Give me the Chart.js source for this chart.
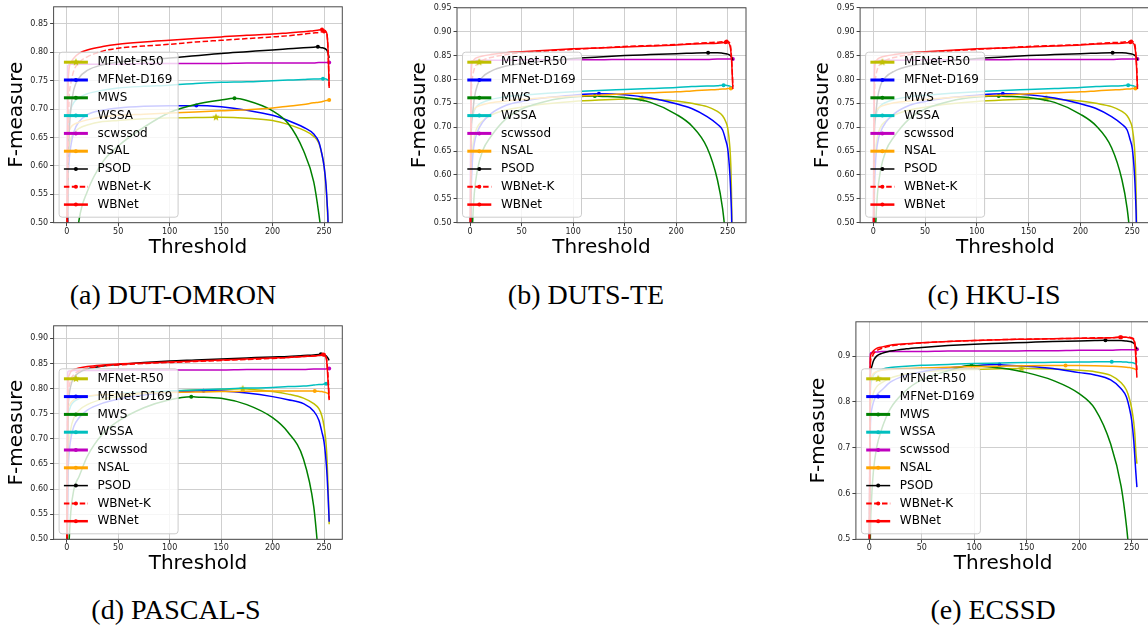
<!DOCTYPE html>
<html lang="en">
<head>
  <meta charset="UTF-8">
  <title>F-measure curves</title>
  <style>
    html, body { margin: 0; padding: 0; background: #fff; overflow: hidden; }
    body { width: 1148px; height: 629px; position: relative; }
    .panel { position: absolute; }
    .caption {
      position: absolute;
      width: 300px;
      text-align: center;
      font-family: "Liberation Serif", serif;
      font-size: 28px;
      line-height: 32px;
      color: #000;
    }
  </style>
</head>
<body>

  <div class="panel" id="wrapA"><canvas id="chartA"></canvas></div>
  <div class="panel" id="wrapB"><canvas id="chartB"></canvas></div>
  <div class="panel" id="wrapC"><canvas id="chartC"></canvas></div>
  <div class="panel" id="wrapD"><canvas id="chartD"></canvas></div>
  <div class="panel" id="wrapE"><canvas id="chartE"></canvas></div>

  <div class="caption" style="left:23px; top:279px">(a) DUT-OMRON</div>
  <div class="caption" style="left:436px; top:279px">(b) DUTS-TE</div>
  <div class="caption" style="left:844px; top:279px">(c) HKU-IS</div>
  <div class="caption" style="left:26px; top:594px">(d) PASCAL-S</div>
  <div class="caption" style="left:843px; top:594px">(e) ECSSD</div>

  <script src="https://cdn.jsdelivr.net/npm/chart.js"></script>
  <script>
    // methods, in plotting / legend order
    const methods = ['MFNet-R50', 'MFNet-D169', 'MWS', 'WSSA', 'scwssod', 'NSAL', 'PSOD', 'WBNet-K', 'WBNet'];

    // thresholds where the F-measure curves are sampled
    const thresholds = [0, 1, 2, 4, 7, 12, 20, 35, 50, 75, 100, 125, 150, 175, 200, 215, 230, 240, 245, 248, 250, 252, 253, 254, 255];
    const xTicks = [0, 50, 100, 150, 200, 250];

    // ---- DUT-OMRON ----
    const omR50  = [0.30, 0.60, 0.63, 0.648, 0.658, 0.666, 0.672, 0.678, 0.680, 0.683, 0.6845, 0.685, 0.6855, 0.684, 0.680, 0.673, 0.663, 0.652, 0.640, 0.620, 0.600, 0.560, 0.530, 0.480, 0.30];
    const omD169 = [0.30, 0.55, 0.60, 0.635, 0.660, 0.678, 0.690, 0.698, 0.702, 0.705, 0.706, 0.706, 0.704, 0.698, 0.689, 0.680, 0.668, 0.656, 0.642, 0.620, 0.600, 0.565, 0.535, 0.490, 0.30];
    const omMWS  = [0.10, 0.15, 0.22, 0.32, 0.42, 0.505, 0.555, 0.607, 0.635, 0.668, 0.694, 0.708, 0.716, 0.715, 0.697, 0.675, 0.627, 0.572, 0.515, 0.47, 0.43, 0.38, 0.35, 0.30, 0.20];
    const omWSSA = [0.35, 0.66, 0.685, 0.700, 0.712, 0.720, 0.727, 0.733, 0.737, 0.740, 0.742, 0.745, 0.747, 0.748, 0.750, 0.751, 0.752, 0.753, 0.753, 0.7532, 0.7532, 0.753, 0.752, 0.751, 0.750];
    const omScw  = [0.40, 0.776, 0.778, 0.779, 0.779, 0.779, 0.779, 0.779, 0.779, 0.780, 0.780, 0.780, 0.780, 0.781, 0.781, 0.781, 0.781, 0.781, 0.782, 0.782, 0.782, 0.782, 0.782, 0.782, 0.782];
    const omNSAL = [0.35, 0.64, 0.66, 0.668, 0.673, 0.677, 0.681, 0.686, 0.689, 0.691, 0.693, 0.695, 0.697, 0.699, 0.702, 0.705, 0.708, 0.711, 0.712, 0.713, 0.714, 0.715, 0.715, 0.7155, 0.716];
    const omPSOD = [0.30, 0.55, 0.64, 0.70, 0.735, 0.755, 0.768, 0.778, 0.783, 0.787, 0.790, 0.794, 0.798, 0.801, 0.804, 0.806, 0.808, 0.809, 0.809, 0.808, 0.807, 0.805, 0.803, 0.798, 0.790];
    const omWBK  = [0.30, 0.55, 0.70, 0.745, 0.768, 0.782, 0.792, 0.802, 0.807, 0.811, 0.814, 0.818, 0.821, 0.824, 0.827, 0.829, 0.832, 0.834, 0.835, 0.836, 0.836, 0.835, 0.830, 0.800, 0.740];
    const omWB   = [0.35, 0.70, 0.765, 0.782, 0.790, 0.798, 0.804, 0.810, 0.814, 0.818, 0.821, 0.824, 0.827, 0.830, 0.832, 0.834, 0.836, 0.838, 0.839, 0.840, 0.839, 0.836, 0.830, 0.800, 0.737];
    const omPeaks = [[145, 0.6855], [126, 0.7065], [163, 0.719], [249, 0.7535], [255, 0.782], [255, 0.716], [244, 0.8095], [250, 0.8365], [248, 0.840]];

    // ---- DUTS-TE (HKU-IS curves are identical) ----
    const dtR50  = [0.30, 0.58, 0.64, 0.68, 0.70, 0.713, 0.725, 0.736, 0.742, 0.749, 0.754, 0.757, 0.759, 0.759, 0.755, 0.750, 0.743, 0.733, 0.724, 0.712, 0.698, 0.66, 0.62, 0.52, 0.30];
    const dtD169 = [0.30, 0.55, 0.62, 0.665, 0.69, 0.71, 0.728, 0.746, 0.754, 0.762, 0.767, 0.770, 0.768, 0.761, 0.749, 0.739, 0.722, 0.706, 0.694, 0.673, 0.655, 0.605, 0.56, 0.49, 0.30];
    const dtMWS  = [0.20, 0.40, 0.48, 0.56, 0.61, 0.65, 0.68, 0.718, 0.738, 0.755, 0.763, 0.765, 0.762, 0.752, 0.727, 0.703, 0.657, 0.59, 0.53, 0.47, 0.42, 0.37, 0.34, 0.30, 0.20];
    const dtWSSA = [0.40, 0.70, 0.72, 0.735, 0.745, 0.752, 0.758, 0.764, 0.767, 0.771, 0.774, 0.777, 0.779, 0.781, 0.783, 0.785, 0.786, 0.787, 0.788, 0.788, 0.787, 0.786, 0.785, 0.784, 0.783];
    const dtScw  = [0.50, 0.838, 0.839, 0.839, 0.840, 0.840, 0.840, 0.840, 0.841, 0.841, 0.841, 0.841, 0.842, 0.842, 0.842, 0.842, 0.842, 0.843, 0.843, 0.843, 0.843, 0.843, 0.843, 0.843, 0.843];
    const dtNSAL = [0.40, 0.715, 0.73, 0.738, 0.743, 0.747, 0.751, 0.755, 0.758, 0.762, 0.765, 0.767, 0.770, 0.772, 0.774, 0.776, 0.778, 0.779, 0.780, 0.780, 0.781, 0.781, 0.781, 0.781, 0.780];
    const dtPSOD = [0.30, 0.68, 0.72, 0.76, 0.788, 0.805, 0.817, 0.828, 0.833, 0.839, 0.844, 0.847, 0.850, 0.852, 0.854, 0.855, 0.856, 0.856, 0.855, 0.854, 0.853, 0.851, 0.849, 0.846, 0.840];
    const dtWBK  = [0.30, 0.75, 0.80, 0.822, 0.833, 0.840, 0.846, 0.852, 0.856, 0.860, 0.863, 0.866, 0.869, 0.871, 0.873, 0.875, 0.877, 0.878, 0.879, 0.879, 0.879, 0.876, 0.865, 0.835, 0.785];
    const dtWB   = [0.30, 0.80, 0.835, 0.842, 0.846, 0.849, 0.852, 0.856, 0.858, 0.861, 0.864, 0.866, 0.868, 0.870, 0.872, 0.874, 0.875, 0.876, 0.877, 0.878, 0.877, 0.872, 0.860, 0.830, 0.780];
    const dtPeaks = [[167, 0.760], [125, 0.770], [121, 0.7655], [246, 0.788], [255, 0.843], [253, 0.781], [231, 0.856], [249, 0.8795], [248, 0.878]];

    // ---- PASCAL-S ----
    const psR50  = [0.30, 0.62, 0.68, 0.72, 0.742, 0.757, 0.768, 0.779, 0.784, 0.790, 0.794, 0.797, 0.798, 0.799, 0.794, 0.789, 0.781, 0.770, 0.760, 0.745, 0.725, 0.69, 0.655, 0.60, 0.53];
    const psD169 = [0.30, 0.60, 0.66, 0.70, 0.725, 0.742, 0.757, 0.771, 0.779, 0.787, 0.792, 0.795, 0.795, 0.791, 0.784, 0.778, 0.770, 0.755, 0.737, 0.713, 0.694, 0.655, 0.625, 0.585, 0.535];
    const psMWS  = [0.20, 0.42, 0.48, 0.555, 0.60, 0.625, 0.665, 0.71, 0.735, 0.762, 0.778, 0.7835, 0.781, 0.768, 0.742, 0.713, 0.66, 0.565, 0.46, 0.40, 0.36, 0.32, 0.30, 0.28, 0.20];
    const psWSSA = [0.40, 0.74, 0.755, 0.766, 0.774, 0.780, 0.784, 0.788, 0.790, 0.793, 0.795, 0.797, 0.799, 0.801, 0.802, 0.804, 0.805, 0.807, 0.808, 0.808, 0.809, 0.8095, 0.809, 0.808, 0.807];
    const psScw  = [0.50, 0.833, 0.835, 0.835, 0.836, 0.836, 0.836, 0.836, 0.837, 0.837, 0.837, 0.837, 0.837, 0.838, 0.838, 0.838, 0.838, 0.839, 0.839, 0.839, 0.839, 0.839, 0.840, 0.840, 0.840];
    const psNSAL = [0.40, 0.755, 0.765, 0.772, 0.778, 0.782, 0.785, 0.788, 0.789, 0.791, 0.792, 0.793, 0.794, 0.7945, 0.795, 0.795, 0.795, 0.795, 0.7945, 0.794, 0.793, 0.792, 0.791, 0.790, 0.788];
    const psPSOD = [0.30, 0.72, 0.78, 0.806, 0.822, 0.832, 0.839, 0.845, 0.848, 0.852, 0.855, 0.857, 0.859, 0.861, 0.863, 0.864, 0.866, 0.867, 0.868, 0.868, 0.867, 0.865, 0.863, 0.860, 0.856];
    const psWBK  = [0.30, 0.76, 0.80, 0.818, 0.828, 0.835, 0.840, 0.845, 0.847, 0.850, 0.852, 0.854, 0.856, 0.858, 0.860, 0.862, 0.864, 0.865, 0.866, 0.867, 0.867, 0.863, 0.850, 0.820, 0.780];
    const psWB   = [0.30, 0.80, 0.825, 0.834, 0.838, 0.841, 0.844, 0.847, 0.849, 0.851, 0.853, 0.855, 0.857, 0.859, 0.861, 0.862, 0.864, 0.865, 0.866, 0.867, 0.866, 0.862, 0.845, 0.810, 0.777];
    const psPeaks = [[171, 0.7995], [133, 0.7957], [121, 0.784], [252, 0.8095], [255, 0.840], [241, 0.7952], [247, 0.8685], [250, 0.8675], [249, 0.868]];

    // ---- ECSSD ----
    const ecR50  = [0.30, 0.78, 0.80, 0.82, 0.833, 0.842, 0.852, 0.861, 0.865, 0.869, 0.871, 0.8725, 0.873, 0.872, 0.869, 0.866, 0.858, 0.842, 0.826, 0.806, 0.786, 0.755, 0.73, 0.69, 0.665];
    const ecD169 = [0.30, 0.74, 0.78, 0.80, 0.815, 0.826, 0.843, 0.858, 0.866, 0.874, 0.879, 0.881, 0.878, 0.873, 0.864, 0.859, 0.848, 0.829, 0.811, 0.785, 0.76, 0.715, 0.68, 0.645, 0.614];
    const ecMWS  = [0.20, 0.50, 0.58, 0.65, 0.70, 0.742, 0.785, 0.825, 0.848, 0.868, 0.8795, 0.874, 0.864, 0.847, 0.818, 0.785, 0.708, 0.615, 0.53, 0.46, 0.41, 0.36, 0.33, 0.30, 0.20];
    const ecWSSA = [0.40, 0.82, 0.845, 0.858, 0.866, 0.871, 0.875, 0.878, 0.880, 0.882, 0.884, 0.885, 0.886, 0.8865, 0.887, 0.8875, 0.888, 0.8875, 0.887, 0.886, 0.886, 0.885, 0.884, 0.883, 0.882];
    const ecScw  = [0.50, 0.905, 0.908, 0.909, 0.909, 0.910, 0.910, 0.910, 0.910, 0.911, 0.911, 0.911, 0.912, 0.912, 0.913, 0.913, 0.913, 0.914, 0.914, 0.914, 0.914, 0.914, 0.914, 0.914, 0.915];
    const ecNSAL = [0.40, 0.845, 0.855, 0.862, 0.866, 0.869, 0.871, 0.873, 0.874, 0.876, 0.877, 0.878, 0.879, 0.8795, 0.8795, 0.879, 0.878, 0.877, 0.876, 0.875, 0.874, 0.873, 0.872, 0.871, 0.869];
    const ecPSOD = [0.40, 0.85, 0.875, 0.89, 0.90, 0.906, 0.911, 0.916, 0.919, 0.923, 0.926, 0.928, 0.930, 0.932, 0.933, 0.934, 0.934, 0.934, 0.933, 0.932, 0.931, 0.928, 0.925, 0.920, 0.915];
    const ecWBK  = [0.40, 0.88, 0.895, 0.905, 0.912, 0.917, 0.922, 0.926, 0.929, 0.932, 0.934, 0.936, 0.937, 0.938, 0.939, 0.940, 0.940, 0.941, 0.941, 0.941, 0.940, 0.937, 0.930, 0.910, 0.870];
    const ecWB   = [0.40, 0.895, 0.905, 0.912, 0.917, 0.920, 0.924, 0.927, 0.929, 0.932, 0.934, 0.936, 0.937, 0.938, 0.939, 0.939, 0.940, 0.941, 0.941, 0.940, 0.939, 0.935, 0.925, 0.895, 0.853];
    const ecPeaks = [[145, 0.873], [124, 0.8815], [97.5, 0.880], [231, 0.888], [255, 0.915], [187, 0.8797], [225, 0.9345], [240, 0.9415], [239, 0.9415]];

    // y tick values per panel
    const yTicksA = [0.50, 0.55, 0.60, 0.65, 0.70, 0.75, 0.80, 0.85];
    const yTicksB = [0.50, 0.55, 0.60, 0.65, 0.70, 0.75, 0.80, 0.85, 0.90, 0.95];
    const yTicksD = [0.50, 0.55, 0.60, 0.65, 0.70, 0.75, 0.80, 0.85, 0.90];
    const yTicksE = [0.5, 0.6, 0.7, 0.8, 0.9];

    // styling
    const colors = ['#bfbf00', '#0000ff', '#008000', '#00bfbf', '#bf00bf', '#ffa500', '#000000', '#ff0000', '#ff0000'];
    const dashes = [[], [], [], [], [], [], [], [5.5, 2.4], []];
    const legendWidths = [3, 3, 3, 3, 3, 3, 1.5, 2, 2.5];

    Chart.defaults.font.family = '"DejaVu Sans", sans-serif';

    // filled five-point star used as the MFNet-R50 marker
    function makeStar(color, r) {
      const c = document.createElement('canvas');
      const s = Math.ceil(r * 2 + 2);
      c.width = s; c.height = s;
      const g = c.getContext('2d');
      g.translate(s / 2, s / 2);
      g.beginPath();
      for (let k = 0; k < 10; k++) {
        const rad = k % 2 ? r * 0.45 : r;
        const ang = -Math.PI / 2 + k * Math.PI / 5;
        g.lineTo(rad * Math.cos(ang), rad * Math.sin(ang));
      }
      g.closePath();
      g.fillStyle = color;
      g.fill();
      return c;
    }
    const star = makeStar(colors[0], 4);

    // sampled curve + its best point (marked)
    function buildSeries(values, peak) {
      const pts = thresholds.map((t, i) => ({ x: t, y: values[i] }));
      const at = pts.findIndex(p => p.x === peak[0]);
      if (at >= 0) {
        pts[at] = { x: peak[0], y: peak[1], peak: true };
      } else {
        pts.push({ x: peak[0], y: peak[1], peak: true });
        pts.sort((a, b) => a.x - b.x);
      }
      return pts;
    }

    // frame around the axes plus the legend box in the lower-left corner
    const insetLegend = {
      id: 'insetLegend',
      afterDatasetsDraw(chart) {
        const { ctx, chartArea: a } = chart;
        ctx.save();
        ctx.strokeStyle = '#4a4a4a';
        ctx.lineWidth = 1;
        ctx.strokeRect(a.left, a.top, a.right - a.left, a.bottom - a.top);

        const fs = 12, pad = 4.8, handle = 24, gap = 9.6, rowH = 17.8;
        ctx.font = fs + 'px "DejaVu Sans"';
        const tw = Math.max(...methods.map(m => ctx.measureText(m).width));
        const w = pad + handle + gap + tw + pad + 1;
        const h = 165;
        const x0 = a.left + 5.5, y0 = a.bottom - 5.5 - h;
        ctx.beginPath();
        ctx.roundRect(x0, y0, w, h, 3);
        ctx.fillStyle = 'rgba(255,255,255,0.8)';
        ctx.fill();
        ctx.strokeStyle = '#cccccc';
        ctx.stroke();

        methods.forEach((m, i) => {
          const y = y0 + 10 + i * rowH;
          const hx = x0 + pad;
          ctx.setLineDash(dashes[i]);
          ctx.strokeStyle = colors[i];
          ctx.lineWidth = legendWidths[i];
          ctx.beginPath();
          ctx.moveTo(hx, y);
          ctx.lineTo(hx + handle, y);
          ctx.stroke();
          ctx.setLineDash([]);
          if (i === 0) {
            ctx.drawImage(star, hx + handle / 2 - star.width / 2, y - star.height / 2);
          } else {
            ctx.beginPath();
            ctx.arc(hx + handle / 2, y, 2, 0, Math.PI * 2);
            ctx.fillStyle = colors[i];
            ctx.fill();
          }
          ctx.fillStyle = '#000';
          ctx.textBaseline = 'middle';
          ctx.textAlign = 'left';
          ctx.fillText(m, hx + handle + gap, y);
        });
        ctx.restore();
      }
    };

    const panels = [
      { wrap: 'wrapA', canvas: 'chartA', series: [omR50, omD169, omMWS, omWSSA, omScw, omNSAL, omPSOD, omWBK, omWB], peaks: omPeaks,
        yMin: 0.5, yMax: 0.88, yTicks: yTicksA, dec: 2, box: { l: 53.6, r: 342.3, t: 5.6, b: 222.7 } },
      { wrap: 'wrapB', canvas: 'chartB', series: [dtR50, dtD169, dtMWS, dtWSSA, dtScw, dtNSAL, dtPSOD, dtWBK, dtWB], peaks: dtPeaks,
        yMin: 0.5, yMax: 0.95, yTicks: yTicksB, dec: 2, box: { l: 457, r: 746, t: 7.3, b: 222.7 } },
      { wrap: 'wrapC', canvas: 'chartC', series: [dtR50, dtD169, dtMWS, dtWSSA, dtScw, dtNSAL, dtPSOD, dtWBK, dtWB], peaks: dtPeaks,
        yMin: 0.5, yMax: 0.95, yTicks: yTicksB, dec: 2, box: { l: 860.1, r: 1150.7, t: 7.3, b: 222.7 } },
      { wrap: 'wrapD', canvas: 'chartD', series: [psR50, psD169, psMWS, psWSSA, psScw, psNSAL, psPSOD, psWBK, psWB], peaks: psPeaks,
        yMin: 0.5, yMax: 0.925, yTicks: yTicksD, dec: 2, box: { l: 53.6, r: 342.3, t: 324.7, b: 539.3 } },
      { wrap: 'wrapE', canvas: 'chartE', series: [ecR50, ecD169, ecMWS, ecWSSA, ecScw, ecNSAL, ecPSOD, ecWBK, ecWB], peaks: ecPeaks,
        yMin: 0.5, yMax: 0.975, yTicks: yTicksE, dec: 1, box: { l: 855.9, r: 1150.3, t: 320.5, b: 539.3 } }
    ];

    panels.forEach(p => {
      const { l, r, t, b } = p.box;
      // container placed so the plot area lands on the box above
      const cl = Math.round(l) - 54, ct = Math.round(t) - 6;
      const cw = Math.ceil(r) + 6 - cl, ch = Math.ceil(b) + 45 - ct;
      const wrap = document.getElementById(p.wrap);
      Object.assign(wrap.style, { left: cl + 'px', top: ct + 'px', width: cw + 'px', height: ch + 'px' });
      const yw = l - cl;
      const padTop = t - ct, padRight = cl + cw - r;
      const xh = ct + ch - b;
      const xTitlePad = xh - 24.8 - 12;
      const yTitlePad = yw - 37 - 12;

      new Chart(document.getElementById(p.canvas), {
        type: 'line',
        data: {
          datasets: methods.map((m, i) => ({
            label: m,
            data: buildSeries(p.series[i], p.peaks[i]),
            borderColor: colors[i],
            backgroundColor: colors[i],
            borderWidth: 1.5,
            borderDash: dashes[i],
            cubicInterpolationMode: 'monotone',
            fill: false,
            pointStyle: i === 0 ? star : 'circle',
            pointRadius: c => (c.raw && c.raw.peak ? (i === 0 ? 4 : 2) : 0),
            pointBorderWidth: 0,
            pointBackgroundColor: colors[i],
            order: methods.length - i
          }))
        },
        options: {
          responsive: true,
          maintainAspectRatio: false,
          animation: false,
          events: [],
          layout: { padding: { left: 0, top: padTop, right: padRight, bottom: 0 } },
          plugins: { legend: { display: false }, tooltip: { enabled: false } },
          scales: {
            x: {
              type: 'linear',
              min: -12.75,
              max: 267.75,
              afterBuildTicks: s => { s.ticks = xTicks.map(v => ({ value: v })); },
              afterFit: s => { s.height = xh; },
              ticks: { autoSkip: false, maxRotation: 0, padding: 0.5, color: '#222', font: { size: 8 }, callback: v => String(v) },
              grid: { color: '#cfcfcf', lineWidth: 1, tickLength: 3.5, tickColor: '#444' },
              border: { display: false },
              title: { display: true, text: 'Threshold', color: '#000', font: { size: 20 }, padding: { top: 0, bottom: xTitlePad } }
            },
            y: {
              min: p.yMin,
              max: p.yMax,
              afterBuildTicks: s => { s.ticks = p.yTicks.map(v => ({ value: v })); },
              afterFit: s => { s.width = yw; },
              ticks: { autoSkip: false, padding: 2, color: '#222', font: { size: 8 }, callback: v => v.toFixed(p.dec) },
              grid: { color: '#cfcfcf', lineWidth: 1, tickLength: 3.5, tickColor: '#444' },
              border: { display: false },
              title: { display: true, text: 'F-measure', color: '#000', font: { size: 20 }, padding: { top: yTitlePad, bottom: 0 } }
            }
          }
        },
        plugins: [insetLegend]
      });
    });
  </script>

</body>
</html>
